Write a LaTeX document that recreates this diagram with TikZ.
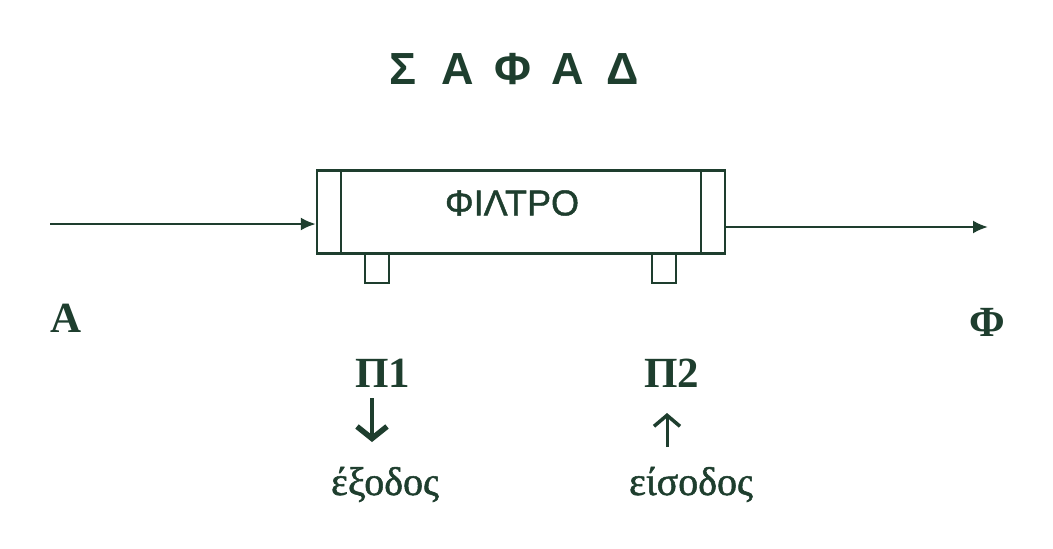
\documentclass[tikz,border=0pt]{standalone}
\usepackage{fontspec}
\setmainfont{Liberation Serif}
\newfontfamily\sansgr{Liberation Sans}
\newfontfamily\sansgrb[FakeBold=1.2]{Liberation Sans}
\newfontfamily\serifw[FakeBold=1.3]{Liberation Serif}
\usetikzlibrary{arrows.meta}
\definecolor{ink}{RGB}{30,62,46}
\tikzset{
  ln/.style={draw=ink, line width=2.4pt},
  flow/.style={ln, -{Latex[length=15pt,width=13pt]}},
  pointer/.style={draw=ink, line width=4.5pt, -{Straight Barb[length=12pt,width=30pt,line width=5.5pt]}},
  pointerthin/.style={draw=ink, line width=3pt, -{Straight Barb[length=11pt,width=26pt,line width=3.5pt]}},
  tab/.style={ln, minimum width=24pt, minimum height=29pt, inner sep=0pt, anchor=north},
  lbl/.style={text=ink, inner sep=0pt, font=\bfseries\fontsize{43}{46}\selectfont},
  word/.style={text=ink, inner sep=0pt, font=\serifw\fontsize{40}{44}\selectfont},
}
\begin{document}
\begin{tikzpicture}[x=1pt,y=-1pt]
\useasboundingbox[fill=white] (0,0) rectangle (1053,549);
% title
\node[text=ink, inner sep=0pt, font=\sansgr\bfseries\fontsize{45}{48}\selectfont] (title) at (513,69)
  {\makebox[55pt]{Σ}\makebox[55pt]{Α}\makebox[55pt]{Φ}\makebox[55pt]{Α}\makebox[55pt]{Δ}};
% filter box
\node[ln, minimum width=408pt, minimum height=83pt, inner sep=0pt] (filter) at (521,212) {};
\node[text=ink, inner sep=0pt, font=\sansgrb\fontsize{36}{40}\selectfont] (ftext) at (512,203) {ΦΙΛΤΡΟ};
\draw[ln] ([xshift=25pt]filter.north west) -- ([xshift=25pt]filter.south west);
\draw[ln] ([xshift=-25pt]filter.north east) -- ([xshift=-25pt]filter.south east);
\node[tab] (tab1) at (377,253) {};
\node[tab] (tab2) at (664,253) {};
% flow arrows
\coordinate (inp) at (50,224);
\coordinate (outp) at (988,227);
\draw[flow] (inp) -- (inp -| filter.west);
\draw[flow] (outp -| filter.east) -- (outp);
% labels
\node[lbl] (A) at (66,318) {Α};
\node[lbl] (F) at (987,322) {Φ};
\node[lbl] (P1) at (383,373) {Π1};
\node[lbl] (P2) at (672,373) {Π2};
\node[word, anchor=base] (out) at (385,495) {έξοδος};
\node[word, anchor=base] (inw) at (691,495) {είσοδος};
\coordinate (d1a) at (372,398);
\coordinate (d1b) at (372,442);
\coordinate (u2a) at (667,447);
\coordinate (u2b) at (667,413);
\draw[pointer] (d1a) -- (d1b);
\draw[pointerthin] (u2a) -- (u2b);
\end{tikzpicture}
\end{document}
